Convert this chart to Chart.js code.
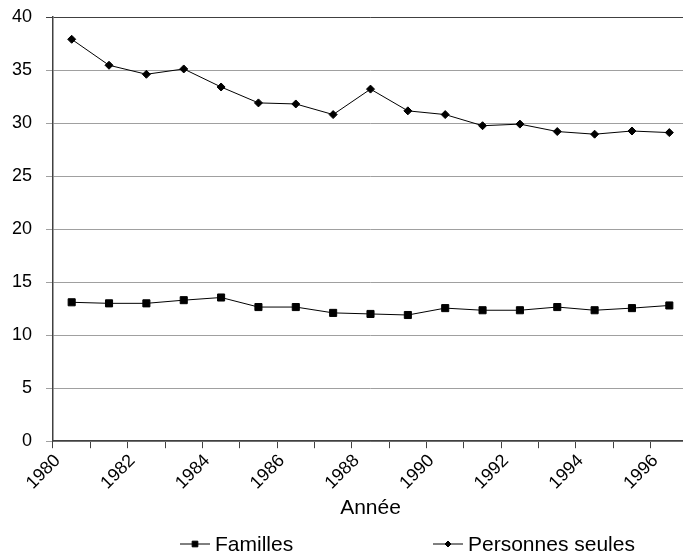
<!DOCTYPE html>
<html lang="fr">
<head>
<meta charset="utf-8">
<title>Familles et personnes seules</title>
<script src="https://cdn.jsdelivr.net/npm/chart.js@4.4.1/dist/chart.umd.min.js"></script>
<style>
  html, body { margin: 0; padding: 0; background: #fff; overflow: hidden; }
  /* le graphique d'origine est coupé à droite : la zone dépasse un peu la fenêtre */
  #cadre { width: 683px; height: 557px; overflow: hidden; }
  #zone { width: 694px; height: 557px; }
</style>
</head>
<body>
<div id="cadre"><div id="zone"><canvas id="graphique"></canvas></div></div>
<script>
// Valeurs
const annees = ['1980', '1981', '1982', '1983', '1984', '1985', '1986', '1987', '1988',
  '1989', '1990', '1991', '1992', '1993', '1994', '1995', '1996'];
const familles = [13.1, 13.0, 13.0, 13.3, 13.55, 12.65, 12.65, 12.1, 12.0,
  11.9, 12.55, 12.35, 12.35, 12.65, 12.35, 12.55, 12.8];
const personnesSeules = [37.9, 35.45, 34.6, 35.1, 33.4, 31.9, 31.8, 30.8, 33.2,
  31.15, 30.8, 29.75, 29.9, 29.2, 28.95, 29.25, 29.1];

const police = "'Liberation Sans', Arial, sans-serif";
const gris = '#a0a0a0';
const fonce = '#404040';

// Légende dessinée à la main : trait avec le marqueur au milieu, comme dans Excel
const legendeMaison = {
  id: 'legendeMaison',
  afterDraw(chart) {
    const ctx = chart.ctx;
    const y = 544;
    const departs = [180, 433];
    ctx.save();
    chart.data.datasets.forEach((ds, i) => {
      const x = departs[i];
      ctx.strokeStyle = '#000';
      ctx.fillStyle = '#000';
      ctx.lineWidth = 1;
      ctx.beginPath();
      ctx.moveTo(x, y);
      ctx.lineTo(x + 30, y);
      ctx.stroke();
      Chart.helpers.drawPoint(ctx, {
        pointStyle: ds.pointStyle,
        radius: ds.pointRadius - 1,
        borderWidth: 1,
        rotation: 0
      }, x + 15, y);
      ctx.font = '21px ' + police;
      ctx.textBaseline = 'middle';
      ctx.textAlign = 'left';
      ctx.fillText(ds.label, x + 35, y + 1);
    });
    ctx.restore();
  }
};

Chart.defaults.color = '#000';
Chart.defaults.font.family = police;

new Chart(document.getElementById('graphique'), {
  type: 'line',
  data: {
    labels: annees,
    datasets: [{
      label: 'Familles',
      data: familles,
      borderColor: '#000',
      backgroundColor: '#000',
      borderWidth: 1,
      pointStyle: 'rect',
      pointRadius: 5,
      pointBorderWidth: 1,
      tension: 0
    }, {
      label: 'Personnes seules',
      data: personnesSeules,
      borderColor: '#000',
      backgroundColor: '#000',
      borderWidth: 1,
      pointStyle: 'rectRot',
      pointRadius: 4,
      pointBorderWidth: 1,
      tension: 0
    }]
  },
  options: {
    responsive: true,
    maintainAspectRatio: false,
    animation: false,
    layout: { padding: { left: 0, top: 0, right: 0, bottom: 36 } },
    plugins: {
      legend: { display: false },
      tooltip: { enabled: false }
    },
    scales: {
      x: {
        offset: true,
        // marge gauche fixée (sinon calculée d'après la 1re étiquette inclinée)
        afterFit: scale => { scale.paddingLeft = 53; },
        grid: {
          offset: true,
          drawOnChartArea: false,
          tickLength: 7,
          tickColor: fonce
        },
        border: { color: fonce, width: 1.5 },
        ticks: {
          autoSkip: false,
          maxRotation: 45,
          minRotation: 45,
          labelOffset: -14,
          padding: 2,
          font: { size: 18 },
          callback: (val, i) => (i % 2 === 0 ? annees[i] : '')
        },
        title: {
          display: true,
          text: 'Année',
          font: { size: 21 },
          padding: { top: 0, bottom: 0 }
        }
      },
      y: {
        min: 0,
        max: 40,
        // le padding des graduations s'ajoute aussi en haut et compte double en largeur
        afterFit: scale => {
          scale.paddingTop = 17;
          scale.width = 41;
        },
        ticks: {
          stepSize: 5,
          padding: 14,
          font: { size: 18 }
        },
        grid: {
          tickLength: 7,
          color: ctx => (ctx.tick && ctx.tick.value === 40 ? fonce : gris),
          tickColor: ctx => (ctx.tick && ctx.tick.value === 40 ? fonce : gris)
        },
        border: { color: fonce, width: 1.5 }
      }
    }
  },
  plugins: [legendeMaison]
});
</script>
</body>
</html>
